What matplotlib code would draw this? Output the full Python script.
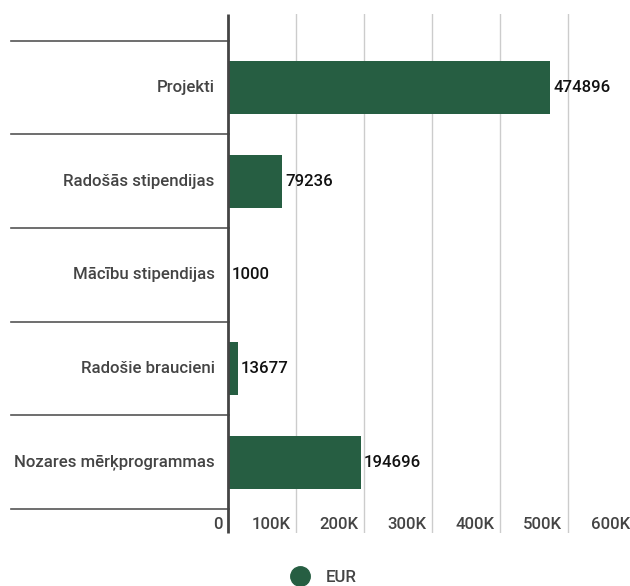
import matplotlib
matplotlib.use('Agg')
import matplotlib.pyplot as plt
from matplotlib.lines import Line2D
from matplotlib.transforms import blended_transform_factory, offset_copy

plt.rcParams['font.family'] = ['Roboto', 'DejaVu Sans']

# ── data ──────────────────────────────────────────────────────────────────────
categories = ["Projekti", "Radošās stipendijas", "Mācību stipendijas",
              "Radošie braucieni", "Nozares mērķprogrammas"]
values     = [474896, 79236, 1000, 13677, 194696]
x_ticks    = [0, 100000, 200000, 300000, 400000, 500000, 600000]
x_labels   = ["0", "100K", "200K", "300K", "400K", "500K", "600K"]
series     = "EUR"

BAR   = '#265e42'
GRID  = '#cccccc'
AXIS  = '#444444'
TEXT  = '#444444'
FS    = 12.1

W, H = 630, 586
fig = plt.figure(figsize=(W / 100, H / 100), dpi=100, facecolor='white')

# axes in pixel terms: x 228.5 -> 635.3 (0..600K), y 14 -> 533
x0, x1 = 228.5, 635.3
y_top, y_bot = 14, 533
ax = fig.add_axes([x0 / W, 1 - y_bot / H, (x1 - x0) / W, (y_bot - y_top) / H])

ypos = list(range(len(categories)))
ax.barh(ypos, values, height=0.565, color=BAR, zorder=3)

ax.set_xlim(0, 600000)
ax.set_ylim(4.756, -0.785)

# vertical grid
for t in x_ticks[1:]:
    ax.axvline(t, color=GRID, lw=1, zorder=1)

for sp in ax.spines.values():
    sp.set_visible(False)
# zero axis drawn a touch left so tiny bars stay visible
ax.plot([0, 0], [0, 1], color=AXIS, lw=2, zorder=4, solid_capstyle='butt',
        clip_on=False,
        transform=offset_copy(ax.get_xaxis_transform(), fig=fig, x=-1, units='dots'))
ax.set_xticks([]); ax.set_yticks([])

# category separators reaching into label area
tr = blended_transform_factory(ax.transAxes, ax.transData)
left = (11 - x0) / (x1 - x0)
for b in [i - 0.5 for i in ypos] + [len(categories) - 0.5]:
    ax.plot([left, 0], [b, b], transform=tr, color='#555555', lw=1.2,
            clip_on=False, zorder=2)

# category labels
for i, c in enumerate(categories):
    ax.annotate(c, (0, i), xytext=(-10, 0), textcoords='offset points',
                ha='right', va='center', fontsize=FS, color=TEXT,
                fontweight='medium', annotation_clip=False)

# value labels
for i, v in enumerate(values):
    ax.annotate(str(v), (v, i), xytext=(2, 0), textcoords='offset points',
                ha='left', va='center', fontsize=FS, color='#111111',
                fontweight='medium', zorder=5)

# x tick labels, right-aligned just left of each gridline
trx = blended_transform_factory(ax.transData, ax.transAxes)
for t, lab in zip(x_ticks, x_labels):
    ax.annotate(lab, (t, 0), xycoords=trx, xytext=(-4, 6),
                textcoords='offset points', ha='right', va='center',
                fontsize=FS, color=TEXT, fontweight='medium',
                annotation_clip=False)

# legend
handle = Line2D([], [], marker='o', color=BAR, ls='', markersize=14)
fig.legend([handle], [series], loc='center', bbox_to_anchor=(320 / W, 1 - 577 / H),
           frameon=False, labelcolor=TEXT, handletextpad=0.5,
           prop={'weight': 'medium', 'size': FS})

fig.savefig('out.png', dpi=100, facecolor='white')
